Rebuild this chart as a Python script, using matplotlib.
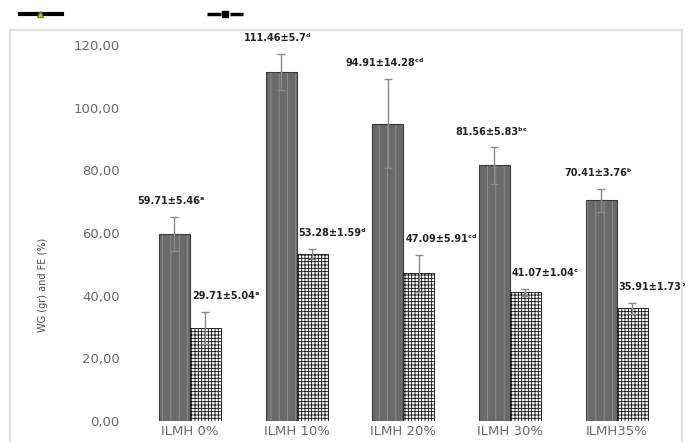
import matplotlib.pyplot as plt
from matplotlib.lines import Line2D
from matplotlib.patches import Rectangle
import numpy as np

plt.rcParams['hatch.linewidth'] = 0.6

# treatment groups
groups = ['ILMH 0%', 'ILMH 10%', 'ILMH 20%', 'ILMH 30%', 'ILMH35%']

# weight gain (gr): mean, sd and letter
wg_mean = [59.71, 111.46, 94.91, 81.56, 70.41]
wg_sd = [5.46, 5.7, 14.28, 5.83, 3.76]
wg_sd_txt = ['5.46', '5.7', '14.28', '5.83', '3.76']
wg_sig = ['ᵃ', 'ᵈ', 'ᶜᵈ', 'ᵇᶜ', 'ᵇ']

# feed efficiency (%): mean, sd and letter
fe_mean = [29.71, 53.28, 47.09, 41.07, 35.91]
fe_sd = [5.04, 1.59, 5.91, 1.04, 1.73]
fe_sig = ['ᵃ', 'ᵈ', 'ᶜᵈ', 'ᶜ', 'ᵇ']

yticks = [0, 20, 40, 60, 80, 100, 120]

W, H = 693, 442
fig = plt.figure(figsize=(W / 100, H / 100), dpi=100)
ax = fig.add_axes([128 / W, 21 / H, (670 - 128) / W, (421 - 45) / H])

x = np.arange(len(groups))
w = 0.29

# dark striped bars (WG)
ax.bar(x - w / 2, wg_mean, w, color='#6a6a6a', edgecolor='#939393',
       hatch='||', linewidth=0)
ax.bar(x - w / 2, wg_mean, w, fill=False, edgecolor='#3a3a3a', linewidth=0.8)
ax.errorbar(x - w / 2, wg_mean, yerr=wg_sd, fmt='none', ecolor='#8a8a8a',
            elinewidth=1, capsize=3)

# white cross-hatched bars (FE)
ax.bar(x + w / 2, fe_mean, w, color='white', edgecolor='#111111',
       hatch='+++++', linewidth=0.6)
ax.errorbar(x + w / 2, fe_mean, yerr=fe_sd, fmt='none', ecolor='#8a8a8a',
            elinewidth=1, capsize=3)

# value labels
for i in range(len(groups)):
    ax.text(x[i] - w / 2 - 0.03, wg_mean[i] + wg_sd[i] + 5,
            '%.2f±%s%s' % (wg_mean[i], wg_sd_txt[i], wg_sig[i]),
            ha='center', va='center', fontsize=7, fontweight='bold',
            color='#222222', clip_on=False)
    ax.text(x[i] + 0.02, fe_mean[i] + fe_sd[i] + 5,
            '%.2f±%.2f%s' % (fe_mean[i], fe_sd[i], fe_sig[i]),
            ha='left', va='center', fontsize=7, fontweight='bold',
            color='#222222', clip_on=False)

ax.set_ylim(0, 120)
ax.set_xlim(-0.58, 4.5)
ax.set_yticks(yticks)
ax.set_yticklabels(['%d,00' % v for v in yticks])
ax.set_xticks(x)
ax.set_xticklabels(groups)
ax.tick_params(length=0, colors='#6a6a6a', labelsize=9.5)
ax.tick_params(axis='y', pad=6)
ax.tick_params(axis='x', pad=3)
for s in ax.spines.values():
    s.set_visible(False)

fig.text(43 / W, 1 - 285 / H, 'WG (gr) and FE (%)', rotation=90,
         ha='center', va='center', fontsize=7, color='#4a4a4a')

# outer frame
fig.add_artist(Rectangle((10 / W, -0.02), 672 / W, 1 - 30 / H + 0.02,
                         transform=fig.transFigure, fill=False,
                         edgecolor='#e2e2e2', linewidth=1.5))

# legend keys at the top
fig.add_artist(Line2D([20 / W, 62 / W], [1 - 14 / H] * 2, color='black',
                      linewidth=3, transform=fig.transFigure))
fig.add_artist(Line2D([40 / W], [1 - 14 / H], marker='^', markersize=5,
                      color='#9acd32', markeredgecolor='#6b8e23',
                      transform=fig.transFigure))
fig.add_artist(Line2D([207 / W, 243 / W], [1 - 14 / H] * 2, color='black',
                      linewidth=2.5, linestyle=(0, (4, 2.6)),
                      transform=fig.transFigure))
fig.add_artist(Line2D([225 / W], [1 - 14 / H], marker='s', markersize=5,
                      color='black', transform=fig.transFigure))

fig.savefig('out.png', dpi=100)
